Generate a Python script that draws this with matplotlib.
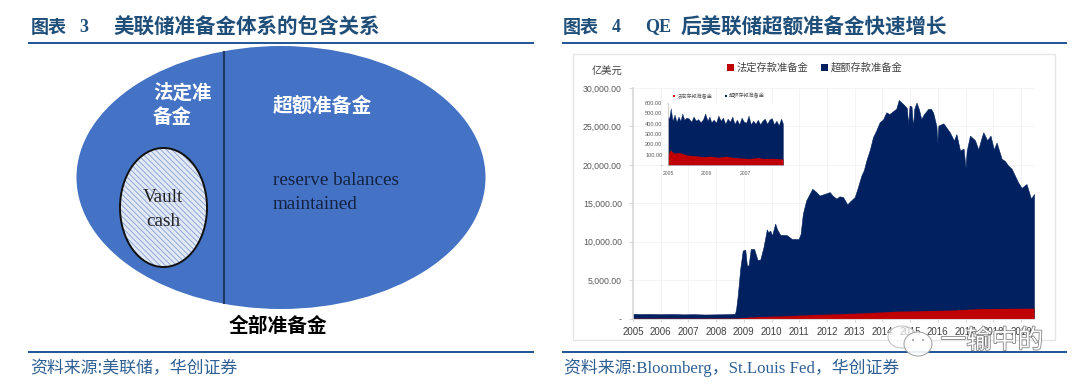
import matplotlib
matplotlib.use("Agg")
import matplotlib.pyplot as plt
from matplotlib.patches import Ellipse, Rectangle
import matplotlib.patheffects as pe

plt.rcParams['font.family'] = ['Noto Sans CJK SC', 'DejaVu Sans']
plt.rcParams['hatch.linewidth'] = 0.7

# ---- chart data ----
main_years = [2005.0, 2005.3, 2005.6, 2006.0, 2006.4, 2006.8, 2007.2, 2007.6, 2008.0, 2008.4, 2008.68,
              2008.72, 2008.78, 2008.87, 2008.96, 2009.05, 2009.11, 2009.17, 2009.25, 2009.37, 2009.49,
              2009.59, 2009.71, 2009.83, 2009.88, 2009.95, 2010.02, 2010.13, 2010.2, 2010.31, 2010.55, 2010.73, 2010.98,
              2011.05, 2011.13, 2011.25, 2011.47, 2011.6, 2011.73, 2011.9, 2012.1, 2012.2, 2012.34, 2012.45, 2012.58, 2012.66, 2012.73,
              2012.85, 2013.0, 2013.1, 2013.24, 2013.33, 2013.42, 2013.55, 2013.66, 2013.78, 2013.9, 2014.02, 2014.14, 2014.25, 2014.39, 2014.5, 2014.59, 2014.75, 2014.88,
              2014.93, 2014.98, 2015.05, 2015.1, 2015.15, 2015.23, 2015.32, 2015.4, 2015.5, 2015.65, 2015.75, 2015.83, 2015.95,
              2015.98, 2016.02, 2016.2, 2016.3, 2016.43, 2016.58, 2016.67, 2016.8, 2016.93, 2017.0, 2017.04,
              2017.16, 2017.25, 2017.34, 2017.46, 2017.56, 2017.64, 2017.78, 2017.9, 2018.02, 2018.12, 2018.3, 2018.42, 2018.54,
              2018.66, 2018.78, 2018.9, 2019.02, 2019.2, 2019.36, 2019.47]
main_total = [620, 580, 600, 560, 590, 540, 560, 520, 540, 560, 620,
              1200, 3000, 6500, 8850, 8950, 6900, 6900, 9050, 9050, 7650,
              7650, 9300, 11600, 11200, 11450, 10800, 12350, 11600, 10900, 10850, 10350, 10350,
              11040, 13640, 15370, 16880, 16500, 16000, 16200, 16450, 16000, 15600, 15900, 15800, 15300, 14850,
              15300, 15800, 16900, 18600, 19300, 20560, 22000, 23600, 24500, 25540, 25900, 26840, 26600, 27000, 27300, 28440, 27900, 27400,
              25300, 27700, 27600, 24900, 27300, 28100, 27200, 25970, 26600, 27270, 27300, 26800, 25000,
              22900, 25100, 25400, 24900, 24240, 23160, 24000, 21860, 22100, 19600, 21800,
              23800, 23500, 23200, 22000, 23300, 24240, 23200, 23800, 22000, 22900, 20800, 20500, 19900,
              19500, 18600, 17700, 17000, 17500, 15600, 16200]
main_req_years = [2005.0, 2007.0, 2008.7, 2009.5, 2010.5, 2011.5, 2012.5, 2013.5, 2014.5, 2015.5, 2016.5, 2017.5, 2018.5, 2019.47]
main_req = [40, 40, 60, 250, 350, 520, 620, 760, 950, 1020, 1100, 1280, 1320, 1340]

inset_years = [2005.0, 2005.03, 2005.07, 2005.12, 2005.17, 2005.22, 2005.27, 2005.32, 2005.37, 2005.42, 2005.48,
               2005.54, 2005.6, 2005.66, 2005.72, 2005.78, 2005.84, 2005.9, 2005.96, 2006.02, 2006.07,
               2006.12, 2006.18, 2006.24, 2006.3, 2006.36, 2006.42, 2006.48, 2006.54, 2006.6, 2006.66,
               2006.72, 2006.78, 2006.84, 2006.9, 2006.96, 2007.02, 2007.08, 2007.14, 2007.2, 2007.26,
               2007.32, 2007.38, 2007.44, 2007.5, 2007.56, 2007.62, 2007.68, 2007.74, 2007.8, 2007.86,
               2007.92, 2007.97]
inset_total = [460, 455, 550, 430, 490, 420, 470, 430, 500, 440, 460,
               450, 420, 470, 430, 445, 415, 440, 500, 430, 470,
               415, 440, 410, 480, 430, 460, 400, 450, 420, 470,
               400, 440, 395, 460, 420, 410, 480, 395, 430, 400,
               440, 395, 430, 450, 400, 440, 455, 395, 430, 385, 450, 400]
inset_req_years = [2005.0, 2005.06, 2005.15, 2005.3, 2005.5, 2005.7, 2005.9, 2006.1, 2006.3, 2006.5, 2006.7, 2006.9, 2007.1, 2007.3, 2007.5, 2007.7, 2007.97]
inset_req = [105, 145, 115, 120, 95, 90, 80, 85, 75, 85, 72, 68, 62, 72, 62, 65, 58]

main_xticks = list(range(2005, 2020))
main_yticks = [0, 5000, 10000, 15000, 20000, 25000, 30000]
main_ylabels = ['-', '5,000.00', '10,000.00', '15,000.00', '20,000.00', '25,000.00', '30,000.00']
inset_xticks = [2005, 2006, 2007]
inset_yticks = [0, 100, 200, 300, 400, 500, 600]
inset_ylabels = ['-', '100.00', '200.00', '300.00', '400.00', '500.00', '600.00']

NAVY = '#002060'
RED = '#C00000'
BLUE = '#4472C4'
RULE = '#1F5496'
TITLE = '#1F4E79'
W, H = 1080, 389

fig = plt.figure(figsize=(W / 100, H / 100), dpi=100, facecolor='white')
ov = fig.add_axes([0, 0, 1, 1], zorder=0)
ov.set_xlim(0, W); ov.set_ylim(H, 0); ov.axis('off')

def px_axes(l, r, t, b, z):
    a = fig.add_axes([l / W, 1 - b / H, (r - l) / W, (b - t) / H], zorder=z)
    a.patch.set_alpha(0)
    return a

# headers, rules, sources
for x0, x1 in [(28, 534), (562, 1067)]:
    for y in (42.5, 351.5):
        ov.plot([x0, x1], [y, y], color=RULE, lw=1.4, solid_capstyle='butt')
ov.text(31, 27, '图表', color=TITLE, fontsize=13, fontweight='bold', va='center')
ov.text(79, 27, '3', color=TITLE, fontsize=13, fontweight='bold', va='center', family='Liberation Serif')
ov.text(113, 27, '美联储准备金体系的包含关系', color=TITLE, fontsize=14.8, fontweight='bold', va='center')
ov.text(563, 27, '图表', color=TITLE, fontsize=13, fontweight='bold', va='center')
ov.text(612, 27, '4', color=TITLE, fontsize=13, fontweight='bold', va='center', family='Liberation Serif')
ov.text(645, 27, 'QE', color=TITLE, fontsize=13, fontweight='bold', va='center', family='Liberation Serif')
ov.text(681, 27, '后美联储超额准备金快速增长', color=TITLE, fontsize=14.8, fontweight='bold', va='center')
ov.text(30, 368, '资料来源:美联储\uff0c华创证券', color='#2E5F93', fontsize=12.2, va='center')
ov.text(564, 368, '资料来源:Bloomberg\uff0cSt.Louis Fed\uff0c华创证券', color='#2E5F93', fontsize=12.2, va='center',
        family=['Liberation Serif', 'Noto Sans CJK SC'])

# left diagram
ov.add_patch(Ellipse((281, 177.5), 409, 263, fc=BLUE, ec='none'))
ov.plot([224, 224], [52, 303], color='#1F3864', lw=1.5)
ov.add_patch(Ellipse((163.5, 207.5), 87, 119, fc='#E4EAF5', ec='#8FA8D6', hatch='\\\\\\\\\\\\', lw=0))
ov.add_patch(Ellipse((163.5, 207.5), 87, 119, fc='none', ec='#111111', lw=1.4))
ov.text(153, 93, '法定准', color='white', fontsize=14, fontweight='bold', va='center')
ov.text(153, 117, '备金', color='white', fontsize=14, fontweight='bold', va='center')
ov.text(273, 105, '超额准备金', color='white', fontsize=14.3, fontweight='bold', va='center')
ov.text(273, 180, 'reserve balances', color='#14213F', fontsize=13.8, va='center', family='Liberation Serif')
ov.text(273, 204, 'maintained', color='#14213F', fontsize=13.8, va='center', family='Liberation Serif')
ov.text(163, 197, 'Vault', color='#222222', fontsize=13.8, va='center', ha='center', family='Liberation Serif')
ov.text(163, 221, 'cash', color='#222222', fontsize=13.8, va='center', ha='center', family='Liberation Serif')
ov.text(278, 326, '全部准备金', color='black', fontsize=14.2, fontweight='bold', va='center', ha='center')

# right chart frame
ov.add_patch(Rectangle((573, 54), 482, 286, fc='white', ec='#E6E6E6', lw=1))
ov.text(592, 72, '亿美元', color='#404040', fontsize=7.4, va='center')
ov.add_patch(Rectangle((727, 64), 7, 7, fc=RED, ec='none'))
ov.text(737, 67.5, '法定存款准备金', color='#404040', fontsize=7.4, va='center')
ov.add_patch(Rectangle((821, 64), 7, 7, fc=NAVY, ec='none'))
ov.text(831, 67.5, '超额存款准备金', color='#404040', fontsize=7.4, va='center')

# main chart
ax = px_axes(633, 1034, 88, 318.5, 1)
ax.fill_between(main_years, 0, main_total, color=NAVY, lw=0.4)
ax.fill_between(main_req_years, 0, main_req, color=RED, lw=0)
ax.set_xlim(2005, 2019.47); ax.set_ylim(0, 30000)
ax.set_xticks(main_xticks); ax.set_yticks(main_yticks)
ax.set_yticklabels(main_ylabels, fontsize=6.3, family='Liberation Sans', color='#595959')
ax.set_xticklabels([str(y) for y in main_xticks], fontsize=7, family='Liberation Sans', color='#404040')
ax.grid(True, color='#F3F3F3', lw=0.6); ax.set_axisbelow(True)
for s in ('top', 'right'):
    ax.spines[s].set_visible(False)
ax.spines['left'].set_color('#D9D9D9'); ax.spines['left'].set_linewidth(1.2)
ax.spines['bottom'].set_color('#D9D9D9'); ax.spines['bottom'].set_linewidth(0.8)
ax.tick_params(axis='y', length=3, color='#D9D9D9', pad=5)
ax.tick_params(axis='x', length=2, color='#D9D9D9', pad=4)

# inset chart
ins = px_axes(668, 783, 103, 165, 2)
ins.patch.set_alpha(1); ins.set_facecolor('white')
ins.fill_between(inset_years, 0, inset_total, color=NAVY, lw=0.2)
ins.fill_between(inset_req_years, 0, inset_req, color=RED, lw=0)
ins.set_xlim(2005, 2007.97); ins.set_ylim(0, 600)
ins.set_xticks(inset_xticks); ins.set_yticks(inset_yticks)
ins.set_xticklabels([str(y) for y in inset_xticks], fontsize=3.6, family='Liberation Sans', color='#595959')
ins.set_yticklabels(inset_ylabels, fontsize=4.1, family='Liberation Sans', color='#595959')
for s in ('top', 'right'):
    ins.spines[s].set_visible(False)
ins.spines['left'].set_color('#BFBFBF'); ins.spines['left'].set_linewidth(0.5)
ins.spines['bottom'].set_color('#BFBFBF'); ins.spines['bottom'].set_linewidth(0.5)
ins.tick_params(length=1, width=0.4, color='#BFBFBF', pad=3)

# inset header (on a back panel around the inset)
ov.add_patch(Rectangle((645, 93), 140, 85, fc='white', ec='none', zorder=0.5))
top = fig.add_axes([0, 0, 1, 1], zorder=3)
top.set_xlim(0, W); top.set_ylim(H, 0); top.axis('off'); top.patch.set_alpha(0)
top.add_patch(Rectangle((672.5, 94.5), 2.5, 2.5, fc=RED, ec='none'))
top.text(677, 96, '法定存款准备金', color='#595959', fontsize=3.7, va='center')
top.add_patch(Rectangle((724.5, 94.5), 2.5, 2.5, fc=NAVY, ec='none'))
top.text(728.5, 96, '超额存款准备金', color='#595959', fontsize=3.7, va='center')

# watermark
top.add_patch(Ellipse((902, 337), 28, 22, fc=(1, 1, 1, 0.7), ec='#BDBDBD', lw=0.7))
top.add_patch(Ellipse((918, 344), 28, 24, fc=(1, 1, 1, 0.9), ec='#9E9E9E', lw=0.7))
top.add_patch(Ellipse((913, 340), 2, 2, fc='#9E9E9E', ec='none'))
top.add_patch(Ellipse((923, 340), 2, 2, fc='#9E9E9E', ec='none'))
top.text(992, 341, '一输中的', color='white', fontsize=18.5, va='center', ha='center',
         path_effects=[pe.withStroke(linewidth=1.1, foreground='#7A7A7A')])

fig.savefig('out.png', dpi=100, facecolor='white')
